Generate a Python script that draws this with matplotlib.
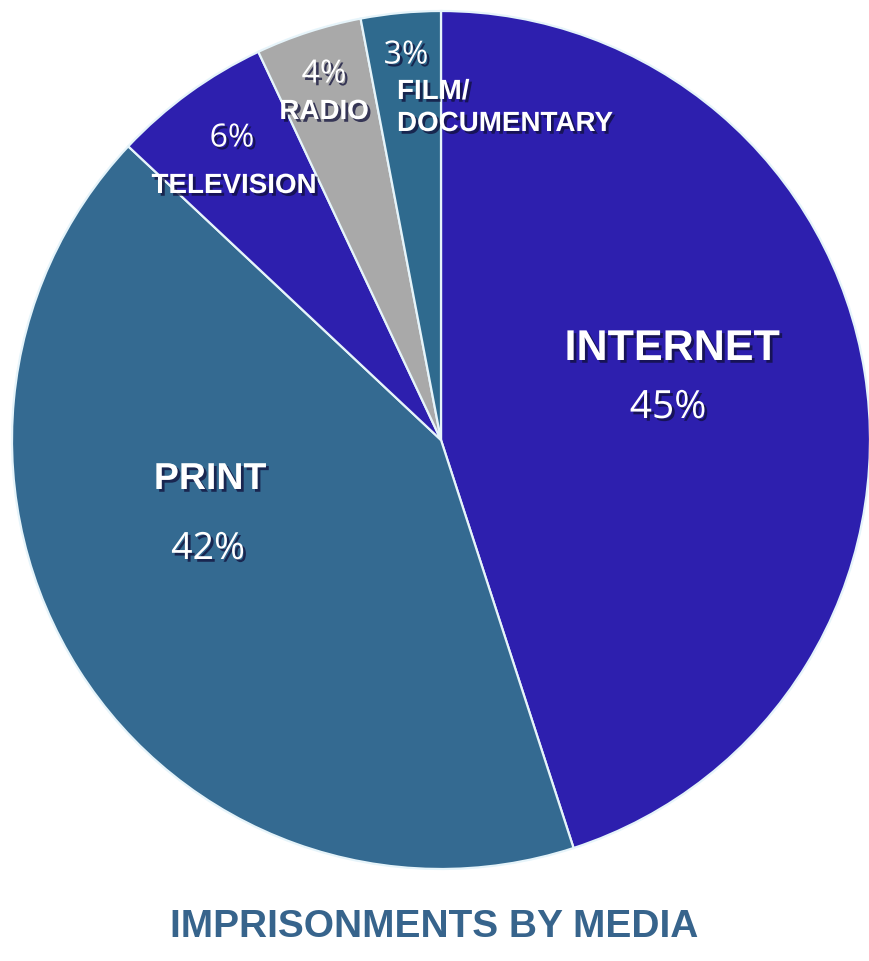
import matplotlib
matplotlib.use('Agg')
import matplotlib.pyplot as plt
import matplotlib.patheffects as pe

# Data
media = ['INTERNET', 'PRINT', 'TELEVISION', 'RADIO', 'FILM/\nDOCUMENTARY']
shares = [45, 42, 6, 4, 3]
colors = ['#2d1fae', '#346a91', '#2d1fae', '#a9a9a9', '#2f6a8e']
title = 'IMPRISONMENTS BY MEDIA'

W, H = 869, 962
fig = plt.figure(figsize=(W / 100, H / 100), dpi=100)
ax = fig.add_axes([0, 0, 1, 1])
ax.set_xlim(0, W)
ax.set_ylim(0, H)
ax.set_aspect('equal')
ax.axis('off')

# pie, clockwise from 12 o'clock
cx, cy, r = 441, H - 441, 429
ax.pie(shares, colors=colors, startangle=90, counterclock=False,
       center=(cx, cy), radius=r,
       wedgeprops=dict(edgecolor='#e6f4fa', linewidth=1.6))
ax.set_xlim(0, W)
ax.set_ylim(0, H)

shadow = [pe.SimplePatchShadow(offset=(2, -2), shadow_rgbFace='#10103a', alpha=0.75),
          pe.Normal()]
bold = dict(family=['Liberation Sans', 'DejaVu Sans'], weight='bold', color='white',
            path_effects=shadow)
num = dict(family=['Open Sans', 'DejaVu Sans'], color='white', path_effects=shadow)

# big slices
ax.text(672, H - 350, media[0], fontsize=31, ha='center', va='center', **bold)
ax.text(668, H - 409, f'{shares[0]}%', fontsize=28, ha='center', va='center', **num)
ax.text(210, H - 480, media[1], fontsize=27, ha='center', va='center', **bold)
ax.text(208, H - 550, f'{shares[1]}%', fontsize=27, ha='center', va='center', **num)

# small slices
ax.text(232, H - 139, f'{shares[2]}%', fontsize=23, ha='center', va='center', **num)
ax.text(234, H - 187, media[2], fontsize=20, ha='center', va='center', **bold)
ax.text(324, H - 75, f'{shares[3]}%', fontsize=23, ha='center', va='center', **num)
ax.text(324, H - 113, media[3], fontsize=20, ha='center', va='center', **bold)
ax.text(406, H - 56, f'{shares[4]}%', fontsize=23, ha='center', va='center', **num)
ax.text(397, H - 109, media[4], fontsize=20, ha='left', va='center',
        linespacing=1.3, **bold)

ax.text(W / 2, H - 927, title, fontsize=28, ha='center', va='center',
        family=['Liberation Sans', 'DejaVu Sans'], weight='bold', color='#37648c')

fig.savefig('out.png', dpi=100, facecolor='white')
